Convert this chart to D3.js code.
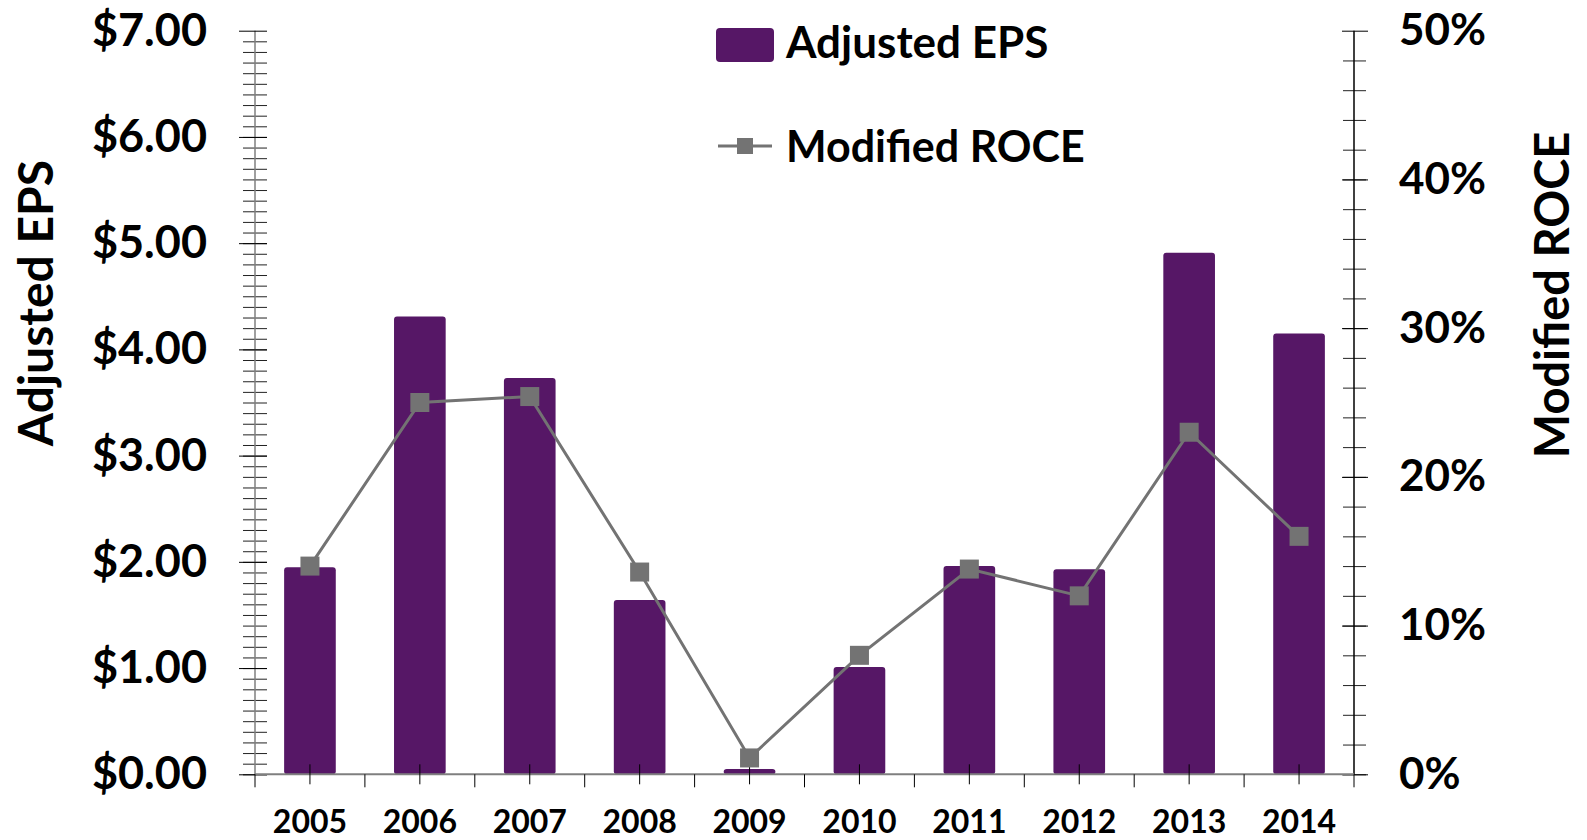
<!DOCTYPE html>
<html>
<head>
<meta charset="utf-8">
<script src="https://cdn.jsdelivr.net/npm/d3@7"></script>
<style>
  body { margin: 0; background: #fff; }
  text { font-family: Lato, "Open Sans", sans-serif; font-weight: bold; fill: #000; }
</style>
</head>
<body>
<div id="chart"></div>
<script>
(function(){
    "use strict";

    // -> data
    var years = ["2005","2006","2007","2008","2009","2010","2011","2012","2013","2014"];
    var adjustedEps = [1.95, 4.31, 3.73, 1.64, 0.05, 1.01, 1.96, 1.93, 4.91, 4.15];
    var modifiedRoce = [0.140, 0.250, 0.254, 0.136, 0.011, 0.080, 0.138, 0.120, 0.230, 0.160];
    var epsTicks = [0, 1, 2, 3, 4, 5, 6, 7];
    var roceTicks = [0, 0.1, 0.2, 0.3, 0.4, 0.5];

    var width = 1587, height = 840;
    var left = 255, right = 1354, top = 30.7, bottom = 774.3;
    var barColor = "#561766", lineColor = "#737373";

    var svg = d3.select("#chart").append("svg")
        .attr("width", width)
        .attr("height", height);

    var x = d3.scaleBand().domain(years).range([left, right]).paddingInner(0.53).paddingOuter(0.265),
        yL = d3.scaleLinear().domain([0, 7]).range([bottom, top]),
        yR = d3.scaleLinear().domain([0, 0.5]).range([bottom, top]);

    //-> bars
    svg.append("g").selectAll("rect")
        .data(adjustedEps)
        .enter().append("rect")
        .attr("x", function(d, i) { return x(years[i]); })
        .attr("y", function(d) { return yL(d); })
        .attr("width", x.bandwidth())
        .attr("height", function(d) { return yL(0) - yL(d); })
        .attr("rx", 3)
        .attr("fill", barColor);

    //-> left axis, minor ticks then major ones
    var minorL = svg.append("g")
        .attr("transform", "translate(" + left + ",0)")
        .call(d3.axisLeft(yL).tickValues(d3.range(0, 70).map(function(i) { return i / 10; })).tickFormat("").tickSize(12));
    minorL.selectAll(".tick line").attr("x1", 12).attr("stroke", "#222");
    minorL.select(".domain").remove();

    var axisL = svg.append("g")
        .attr("transform", "translate(" + left + ",0)")
        .call(d3.axisLeft(yL).tickValues(epsTicks)
            .tickFormat(function(d) { return "$" + d.toFixed(2); })
            .tickSize(16).tickPadding(32));
    axisL.selectAll(".tick line").attr("x1", 12).attr("stroke", "#000");
    axisL.select(".domain").attr("d", "M0," + top + "V" + bottom).attr("stroke", "#7f7f7f").attr("stroke-width", 1.5);
    axisL.selectAll("text").attr("font-family", null).attr("font-size", 45);

    //-> right axis
    var minorR = svg.append("g")
        .attr("transform", "translate(" + right + ",0)")
        .call(d3.axisRight(yR).tickValues(d3.range(0, 25).map(function(i) { return i / 50; })).tickFormat("").tickSize(12));
    minorR.selectAll(".tick line").attr("x1", -11).attr("stroke", "#222");
    minorR.select(".domain").remove();

    var axisR = svg.append("g")
        .attr("transform", "translate(" + right + ",0)")
        .call(d3.axisRight(yR).tickValues(roceTicks)
            .tickFormat(d3.format(".0%"))
            .tickSize(14).tickPadding(31));
    axisR.selectAll(".tick line").attr("x1", -12).attr("stroke", "#000");
    axisR.select(".domain").attr("d", "M0," + top + "V" + bottom).attr("stroke", "#000").attr("stroke-width", 1.5);
    axisR.selectAll("text").attr("font-family", null).attr("font-size", 44).attr("text-anchor", "start");

    //-> x axis: labels + crossing ticks at the centres, boundary ticks below
    var axisX = svg.append("g")
        .attr("transform", "translate(0," + bottom + ")")
        .call(d3.axisBottom(x).tickSize(10).tickPadding(26));
    axisX.selectAll(".tick line").attr("y1", -10).attr("stroke", "#000");
    axisX.select(".domain").attr("d", "M" + left + ",0H" + right).attr("stroke", "#7f7f7f").attr("stroke-width", 2);
    axisX.selectAll("text").attr("font-family", null).attr("font-size", 32);

    axisX.selectAll(".bound")
        .data(d3.range(0, years.length + 1))
        .enter().append("line")
        .attr("class", "bound")
        .attr("x1", function(i) { return left + i * x.step(); })
        .attr("x2", function(i) { return left + i * x.step(); })
        .attr("y1", 0)
        .attr("y2", 13)
        .attr("stroke", "#000");

    //-> ROCE line with square markers
    var roceLine = d3.line()
        .x(function(d, i) { return x(years[i]) + x.bandwidth() / 2; })
        .y(function(d) { return yR(d); });

    svg.append("path")
        .datum(modifiedRoce)
        .attr("d", roceLine)
        .attr("fill", "none")
        .attr("stroke", lineColor)
        .attr("stroke-width", 3);

    svg.append("g").selectAll("rect")
        .data(modifiedRoce)
        .enter().append("rect")
        .attr("x", function(d, i) { return x(years[i]) + x.bandwidth() / 2 - 9.5; })
        .attr("y", function(d) { return yR(d) - 9.5; })
        .attr("width", 19)
        .attr("height", 19)
        .attr("fill", lineColor);

    //-> axis titles
    svg.append("text")
        .attr("text-anchor", "middle")
        .attr("transform", "translate(53,303)rotate(-90)")
        .attr("font-size", 48)
        .text("Adjusted EPS");

    svg.append("text")
        .attr("text-anchor", "middle")
        .attr("transform", "translate(1569,295)rotate(-90)")
        .attr("font-size", 47)
        .text("Modified ROCE");

    //-> legend
    var legend = svg.append("g");
    legend.append("rect")
        .attr("x", 716).attr("y", 28).attr("width", 58).attr("height", 34).attr("rx", 4)
        .attr("fill", barColor);
    legend.append("text")
        .attr("x", 786).attr("y", 58)
        .attr("font-size", 44)
        .text("Adjusted EPS");

    legend.append("line")
        .attr("x1", 718).attr("x2", 772).attr("y1", 146).attr("y2", 146)
        .attr("stroke", lineColor).attr("stroke-width", 3);
    legend.append("rect")
        .attr("x", 737).attr("y", 138).attr("width", 16).attr("height", 16)
        .attr("fill", lineColor);
    legend.append("text")
        .attr("x", 786).attr("y", 162)
        .attr("font-size", 43)
        .text("Modified ROCE");
})();
</script>
</body>
</html>
